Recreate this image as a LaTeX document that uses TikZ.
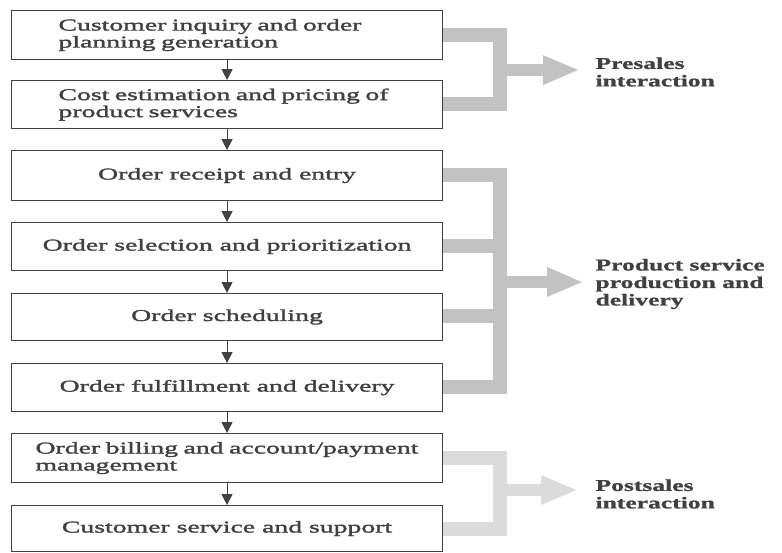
\documentclass[tikz,border=0pt]{standalone}
\usepackage{fontspec}
\setmainfont{Liberation Serif}[FakeStretch=1.68,FakeBold=1.8]
\newfontfamily\lblfont{Liberation Serif}[FakeStretch=1.55,BoldFont={* Bold},BoldFeatures={FakeBold=1.0}]
\usetikzlibrary{arrows.meta}
\definecolor{inkc}{gray}{0.25}
\definecolor{bandc}{gray}{0.76}
\definecolor{bandlight}{gray}{0.86}
\begin{document}
\begin{tikzpicture}[x=1pt,y=-1pt,
  stepbox/.style={draw=inkc,line width=1.1pt,minimum width=431pt,anchor=north west,inner sep=0pt,
     font=\fontsize{16.5}{17}\selectfont,text=inkc},
  leftbox/.style={align=left,inner xsep=#1,text width=431pt-2*#1},
  flow/.style={draw=inkc,line width=1.1pt,-{Triangle[length=11pt,width=11pt]}},
  band/.style={draw=bandc,line width=14pt},
  bandarrow/.style={draw=bandc,line width=12pt,-{Triangle[length=35pt,width=30pt,line width=0pt]}},
  sidelabel/.style={anchor=west,align=left,text=inkc,font=\lblfont\bfseries\fontsize{16.5}{17.5}\selectfont}]
\useasboundingbox (0,0) rectangle (782,552);
\fill[white] (0,0) rectangle (782,552);

\node[stepbox,leftbox=47pt,minimum height=49pt] (b1) at (11,10) {Customer inquiry and order\\planning generation};
\node[stepbox,leftbox=47pt,minimum height=48pt] (b2) at (11,80) {Cost estimation and pricing of\\product services};
\node[stepbox,minimum height=50pt] (b3) at (11,150) {Order receipt and entry};
\node[stepbox,minimum height=48pt] (b4) at (11,222) {Order selection and prioritization};
\node[stepbox,minimum height=47pt] (b5) at (11,293) {Order scheduling};
\node[stepbox,minimum height=48pt] (b6) at (11,363) {Order fulfillment and delivery};
\node[stepbox,leftbox=24pt,minimum height=49pt] (b7) at (11,433) {Order billing and account/payment\\management};
\node[stepbox,minimum height=46pt] (b8) at (11,505) {Customer service and support};

\foreach \a/\b in {b1/b2,b2/b3,b3/b4,b4/b5,b5/b6,b6/b7,b7/b8}
  \draw[flow] (\a.south) -- (\b.north);

% presales bracket
\coordinate (p1) at (500,35);
\coordinate (p2) at (500,104);
\coordinate (pm) at (500,70);
\coordinate (pt) at (578,70);
\draw[band,line join=miter] (b1.east |- p1) -- (p1) -- (p2) -- (b2.east |- p2);
\draw[bandarrow] (pm) -- (pt);
\node[sidelabel] (lpre) at (592,72) {Presales\\interaction};

% production bracket
\coordinate (q1) at (500,175);
\coordinate (q2) at (500,246);
\coordinate (q3) at (500,316);
\coordinate (q4) at (500,387);
\coordinate (qm) at (500,282);
\coordinate (qt) at (582,282);
\draw[band,line join=miter] (b3.east |- q1) -- (q1) -- (q4) -- (b6.east |- q4);
\draw[band] (b4.east |- q2) -- (q2);
\draw[band] (b5.east |- q3) -- (q3);
\draw[bandarrow] (qm) -- (qt);
\node[sidelabel] (lprod) at (592,284) {Product service\\production and\\delivery};

% postsales bracket
\coordinate (r1) at (500,458);
\coordinate (r2) at (500,529);
\coordinate (rm) at (500,490);
\coordinate (rt) at (576,490);
\draw[band,draw=bandlight,line join=miter] (b7.east |- r1) -- (r1) -- (r2) -- (b8.east |- r2);
\draw[bandarrow,draw=bandlight] (rm) -- (rt);
\node[sidelabel] (lpost) at (592,494) {Postsales\\interaction};
\end{tikzpicture}
\end{document}
